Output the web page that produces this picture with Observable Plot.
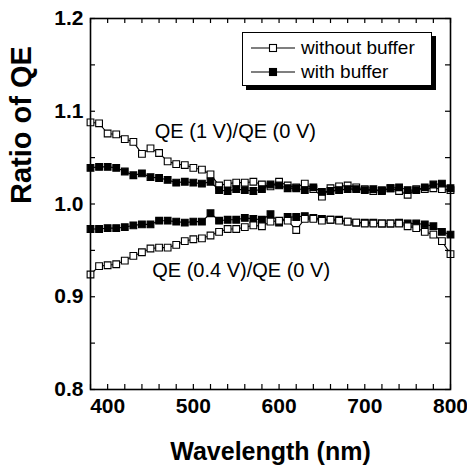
<!DOCTYPE html>
<html>
<head>
<meta charset="utf-8">
<script src="https://cdn.jsdelivr.net/npm/d3@7"></script>
<script src="https://cdn.jsdelivr.net/npm/@observablehq/plot@0.6"></script>
<style>
  html, body { margin: 0; padding: 0; background: #fff; }
  #wrap { position: relative; width: 467px; height: 472px; font-family: "Liberation Sans", Arial, Helvetica, sans-serif; }
  #legend { position: absolute; left: 242px; top: 32px; width: 190px; height: 54px; border: 1.5px solid #000; box-shadow: 4px 4px 0 #000; background: #fff; box-sizing: border-box; }
  .row { position: absolute; left: 8px; height: 22px; display: flex; align-items: center; font-size: 19px; color: #000; white-space: nowrap; }
  .row svg { margin-right: 6px; }
</style>
</head>
<body>
<div id="wrap"></div>
<script>
const wavelengths = [380,390,400,410,420,430,440,450,460,470,480,490,500,510,520,530,540,550,560,570,580,590,600,610,620,630,640,650,660,670,680,690,700,710,720,730,740,750,760,770,780,790,800];

// QE(1 V)/QE(0 V)
const noBuffer1V = [1.088,1.087,1.076,1.075,1.070,1.067,1.054,1.060,1.055,1.046,1.043,1.042,1.039,1.037,1.032,1.020,1.022,1.023,1.023,1.024,1.021,1.019,1.024,1.020,1.018,1.022,1.016,1.008,1.017,1.019,1.020,1.018,1.016,1.014,1.015,1.017,1.014,1.010,1.016,1.016,1.017,1.016,1.015];
const buffer1V   = [1.039,1.040,1.040,1.039,1.035,1.031,1.033,1.029,1.028,1.026,1.023,1.024,1.023,1.022,1.024,1.015,1.014,1.016,1.015,1.014,1.016,1.021,1.020,1.017,1.017,1.015,1.018,1.013,1.014,1.015,1.016,1.016,1.015,1.016,1.014,1.017,1.018,1.015,1.015,1.018,1.021,1.022,1.017];

// QE(0.4 V)/QE(0 V)
const noBuffer04V = [0.924,0.933,0.934,0.935,0.939,0.944,0.948,0.952,0.953,0.953,0.956,0.960,0.962,0.963,0.966,0.970,0.973,0.973,0.975,0.977,0.976,0.981,0.982,0.982,0.972,0.984,0.984,0.982,0.983,0.982,0.981,0.980,0.979,0.979,0.979,0.979,0.979,0.976,0.974,0.970,0.967,0.960,0.946];
const buffer04V   = [0.973,0.973,0.974,0.974,0.975,0.977,0.978,0.978,0.982,0.982,0.981,0.980,0.981,0.981,0.990,0.982,0.983,0.983,0.985,0.984,0.983,0.989,0.980,0.986,0.986,0.987,0.985,0.984,0.983,0.983,0.981,0.980,0.980,0.980,0.979,0.979,0.980,0.979,0.979,0.978,0.976,0.970,0.967];

const xTickLabels = [400,500,600,700,800];
const xMinorTicks = [380,400,420,440,460,480,500,520,540,560,580,600,620,640,660,680,700,720,740,760,780,800];
const yTickLabels = [0.8,0.9,1.0,1.1,1.2];
const yMinorTicks = [0.8,0.85,0.9,0.95,1.0,1.05,1.1,1.15,1.2];

const annotations = [
  {text: "QE (1 V)/QE (0 V)", x: 455, y: 1.078},
  {text: "QE (0.4 V)/QE (0 V)", x: 452, y: 0.928}
];

const seriesDefs = [
  {name: "without buffer, 1 V", values: noBuffer1V, fill: "white"},
  {name: "with buffer, 1 V", values: buffer1V, fill: "black"},
  {name: "with buffer, 0.4 V", values: buffer04V, fill: "black"},
  {name: "without buffer, 0.4 V", values: noBuffer04V, fill: "white"}
];

const font = "Liberation Sans, Arial, Helvetica, sans-serif";
const W = 467, H = 472;
const mt = 18, mb = 83, ml = 90, mr = 17;
const innerH = H - mt - mb;
const innerW = W - ml - mr;

const marks = [];
for (const s of seriesDefs) {
  const rows = wavelengths.map((w, i) => ({w, v: s.values[i]}));
  marks.push(Plot.line(rows, {x: "w", y: "v", stroke: "black", strokeWidth: 1.1}));
  marks.push(Plot.dot(rows, {x: "w", y: "v", symbol: "square", r: 3.8, stroke: "black", strokeWidth: 1.1, fill: s.fill}));
}

const chart = Plot.plot({
  width: W, height: H,
  marginTop: mt, marginBottom: mb, marginLeft: ml, marginRight: mr,
  style: {fontFamily: font, background: "white", color: "black"},
  x: {domain: [380, 800]},
  y: {domain: [0.8, 1.2]},
  marks: [
    ...marks,
    // inward ticks on all four sides
    Plot.tickX(xMinorTicks, {x: d => d, insetTop: innerH - 5, stroke: "black", strokeWidth: 1.2}),
    Plot.tickX(xMinorTicks, {x: d => d, insetBottom: innerH - 5, stroke: "black", strokeWidth: 1.2}),
    Plot.tickY(yMinorTicks, {y: d => d, insetRight: innerW - 5, stroke: "black", strokeWidth: 1.2}),
    Plot.tickY(yMinorTicks, {y: d => d, insetLeft: innerW - 5, stroke: "black", strokeWidth: 1.2}),
    Plot.axisX(xTickLabels, {tickSize: 0, tickPadding: 9, fontSize: 21, fontWeight: "bold", label: null, tickFormat: d => String(d)}),
    Plot.axisY(yTickLabels, {tickSize: 0, tickPadding: 7, fontSize: 21, fontWeight: "bold", label: null, tickFormat: d3.format(".1f")}),
    Plot.frame({stroke: "black", strokeWidth: 1.6}),
    Plot.text(annotations, {x: "x", y: "y", text: "text", textAnchor: "start", fontSize: 20, fill: "black", fontFamily: font}),
    Plot.text(["Wavelength (nm)"], {frameAnchor: "bottom", dy: 70, fontSize: 25, fontWeight: "bold", fill: "black", fontFamily: font}),
    Plot.text(["Ratio of QE"], {frameAnchor: "left", dx: -69, rotate: -90, fontSize: 29, fontWeight: "bold", fill: "black", fontFamily: font})
  ]
});

const wrap = document.getElementById("wrap");
wrap.appendChild(chart);

function sym(fill) {
  return `<svg width="44" height="12" viewBox="0 0 44 12"><line x1="0" y1="6" x2="44" y2="6" stroke="black" stroke-width="1.2"/><rect x="18.5" y="2.5" width="7" height="7" fill="${fill}" stroke="black" stroke-width="1.1"/></svg>`;
}
const legend = document.createElement("div");
legend.id = "legend";
legend.innerHTML = `<div class="row" style="top:4px">${sym("white")}<span>without buffer</span></div>
<div class="row" style="top:28px">${sym("black")}<span>with buffer</span></div>`;
wrap.appendChild(legend);
</script>
</body>
</html>
